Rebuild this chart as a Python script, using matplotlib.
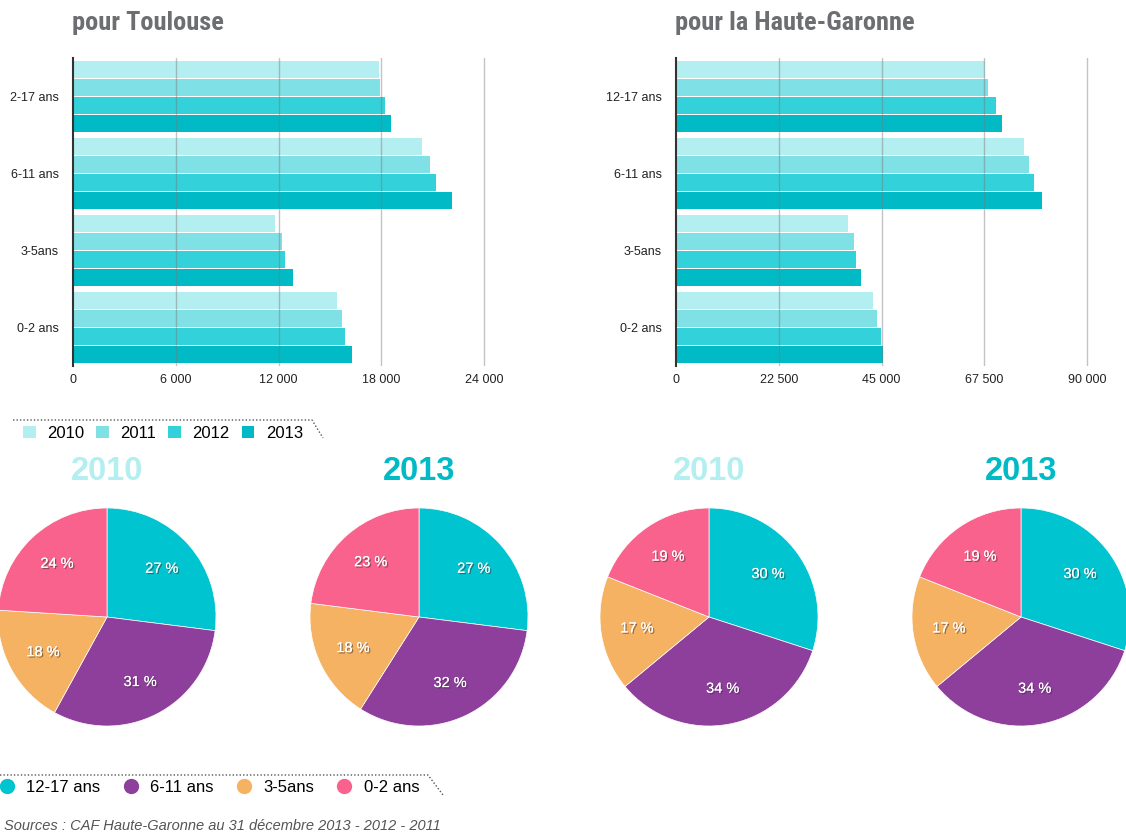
import matplotlib
matplotlib.use('Agg')
import matplotlib.pyplot as plt
import matplotlib.patheffects as pe
from matplotlib import font_manager
from matplotlib.lines import Line2D

W, H = 1126, 834

# --- data ---
years = ['2010', '2011', '2012', '2013']
ages_tlse = ['2-17 ans', '6-11 ans', '3-5ans', '0-2 ans']
ages_hg = ['12-17 ans', '6-11 ans', '3-5ans', '0-2 ans']

tlse_2010 = [17870, 20390, 11810, 15420]
tlse_2011 = [17930, 20850, 12210, 15710]
tlse_2012 = [18220, 21200, 12380, 15880]
tlse_2013 = [18570, 22140, 12840, 16300]

hg_2010 = [67700, 76240, 37570, 43180]
hg_2011 = [68410, 77350, 38990, 44050]
hg_2012 = [70150, 78460, 39470, 44920]
hg_2013 = [71420, 80200, 40570, 45400]

tlse_ticks = [0, 6000, 12000, 18000, 24000]
hg_ticks = [0, 22500, 45000, 67500, 90000]

pie_labels = ['12-17 ans', '6-11 ans', '3-5ans', '0-2 ans']
pie_tlse_2010 = [27, 31, 18, 24]
pie_tlse_2013 = [27, 32, 18, 23]
pie_hg_2010 = [30, 34, 17, 19]
pie_hg_2013 = [30, 34, 17, 19]

year_colors = ['#b3eef0', '#7fe0e5', '#33d1d9', '#00bac6']
pie_colors = ['#00c4cf', '#8e3f9b', '#f5b262', '#f9628c']

# pick a condensed bold face for the titles if one is installed
fonts = font_manager.fontManager.ttflist
names = {f.name for f in fonts}
title_kw = dict(family='Roboto', fontsize=17.5)
if 'Roboto Condensed' in names:
    title_kw = dict(family='Roboto Condensed', fontsize=19)
elif 'Liberation Sans Narrow' in names:
    title_kw = dict(family='Liberation Sans Narrow', fontsize=19)
elif any(f.name == 'DejaVu Sans' and f.stretch == 'condensed' and f.weight == 700 for f in fonts):
    title_kw = dict(family='DejaVu Sans', stretch='condensed', fontsize=17)

plt.rcParams['font.family'] = ['Liberation Sans', 'DejaVu Sans']

fig = plt.figure(figsize=(W / 100, H / 100), dpi=100)


def px_axes(x0, y0, x1, y1):
    return fig.add_axes([x0 / W, 1 - y1 / H, (x1 - x0) / W, (y1 - y0) / H])


def fmt(v):
    return f'{v:,}'.replace(',', ' ')


def bar_panel(x0, title, cats, data, ticks):
    xmax = ticks[-1] * 26 / 24
    ax = px_axes(x0, 58.3, x0 + 411 * xmax / ticks[-1], 365.7)
    for j, vals in enumerate(data):
        pos = [g + (j - 1.5) * 0.235 for g in range(len(cats))]
        ax.barh(pos, vals, height=0.225, color=year_colors[j], label=years[j], zorder=2)
    ax.set_xlim(0, xmax)
    ax.set_ylim(3.5, -0.5)
    for t in ticks[1:]:
        ax.axvline(t, color='#7a7a7a', alpha=0.45, lw=1, zorder=3)
    ax.set_xticks(ticks)
    ax.set_xticklabels([fmt(t) for t in ticks], fontsize=9, color='#222222')
    ax.set_yticks(range(len(cats)))
    ax.set_yticklabels(cats, fontsize=9, color='#222222')
    ax.tick_params(length=0, axis='x', pad=6)
    ax.tick_params(length=0, axis='y', pad=10)
    for s in ['top', 'right', 'bottom']:
        ax.spines[s].set_visible(False)
    ax.spines['left'].set_color('#333333')
    ax.spines['left'].set_linewidth(1.5)
    ax.spines['left'].set_zorder(4)
    fig.text(x0 / W - 1 / W, 1 - 23 / H, title, fontweight='bold', color='#6d6e71',
             va='center', ha='left', **title_kw)
    return ax


ax1 = bar_panel(73, 'pour Toulouse', ages_tlse, [tlse_2010, tlse_2011, tlse_2012, tlse_2013], tlse_ticks)
ax2 = bar_panel(676, 'pour la Haute-Garonne', ages_hg, [hg_2010, hg_2011, hg_2012, hg_2013], hg_ticks)


def pie_panel(cx, year, vals, title_color):
    r = 109
    ax = px_axes(cx - r, 617 - r, cx + r, 617 + r)
    wedges, _, autotexts = ax.pie(vals, colors=pie_colors, startangle=90, counterclock=False,
                                  radius=1, autopct=lambda p: f'{p:.0f} %', pctdistance=0.67,
                                  wedgeprops=dict(linewidth=0.5, edgecolor='white'))
    for t in autotexts:
        t.set_color('white')
        t.set_fontsize(10.5)
        t.set_path_effects([pe.withSimplePatchShadow(offset=(1, -1), shadow_rgbFace='#333333', alpha=0.55),
                            pe.Normal()])
    ax.set_xlim(-1, 1)
    ax.set_ylim(-1, 1)
    ax.set_aspect('equal')
    ax.axis('off')
    fig.text(cx / W, 1 - 471 / H, year, fontsize=23.5, fontweight='bold', color=title_color,
             ha='center', va='center')


pie_panel(107, '2010', pie_tlse_2010, year_colors[0])
pie_panel(419, '2013', pie_tlse_2013, year_colors[3])
pie_panel(709, '2010', pie_hg_2010, year_colors[0])
pie_panel(1021, '2013', pie_hg_2013, year_colors[3])

# overlay for decorative dotted legend lines
over = fig.add_axes([0, 0, 1, 1])
over.set_xlim(0, W)
over.set_ylim(H, 0)
over.axis('off')
over.patch.set_alpha(0)
over.plot([13, 312, 323], [420, 420, 438], color='#555555', lw=1, ls=(0, (1, 1.5)))
over.plot([0, 428, 443], [775, 775, 795], color='#555555', lw=1, ls=(0, (1, 1.5)))

# year legend
handles, labels = ax1.get_legend_handles_labels()
fig.legend(handles, labels, loc='center left', bbox_to_anchor=(23 / W, 1 - 433 / H), ncol=4,
           frameon=False, fontsize=12, handlelength=0.75, handleheight=0.75, handletextpad=0.7,
           columnspacing=0.72, borderpad=0, borderaxespad=0)

# age legend
age_handles = [Line2D([], [], marker='o', ls='none', markersize=10, color=c) for c in pie_colors]
fig.legend(age_handles, pie_labels, loc='center left', bbox_to_anchor=(0 / W, 1 - 787 / H), ncol=4,
           frameon=False, fontsize=12, handlelength=0.84, handletextpad=0.75,
           columnspacing=1.38, borderpad=0, borderaxespad=0)

fig.text(4 / W, 1 - 826 / H, 'Sources : CAF Haute-Garonne au 31 décembre 2013 - 2012 - 2011',
         fontsize=10.5, style='italic', color='#555555', ha='left', va='center')

fig.savefig('out.png', dpi=100)
